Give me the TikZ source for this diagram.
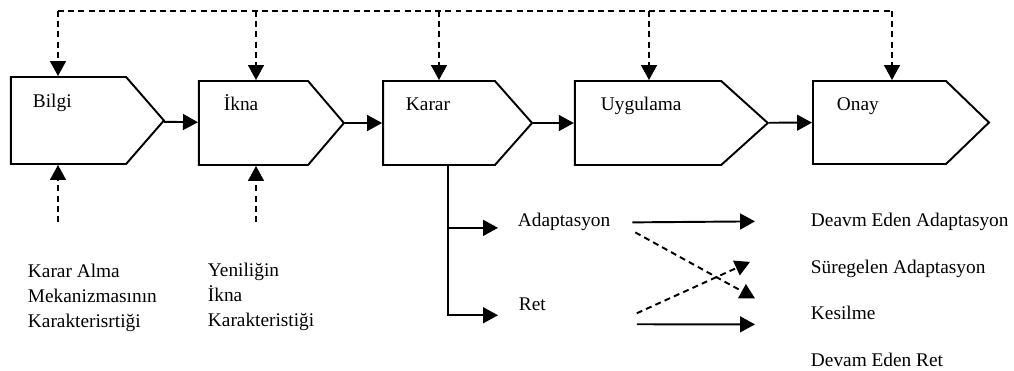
\documentclass[tikz,border=0pt]{standalone}
\usepackage{fontspec}
\setmainfont{Liberation Serif}
\usepackage{tikz}
\usetikzlibrary{shapes.symbols}
\usetikzlibrary{arrows.meta}

\tikzset{
  stage/.style={draw, line width=1.1pt, shape=signal, signal to=east, minimum height=1.68cm, inner sep=0pt},
  lbl/.style={inner sep=0pt, font=\fontsize{11}{14.4}\selectfont},
  fb/.style={line width=1.1pt, dash pattern=on 3.4pt off 2.4pt},
}

\begin{document}
\begin{tikzpicture}[>={Triangle[length=8.5pt,width=9pt]}, line width=1.1pt]
    \useasboundingbox (0,0) rectangle (20.28,-7.42);

    % stages
    \node[stage, minimum width=3.06cm, minimum height=1.74cm, signal pointer angle=98] (bilgi) at ( 1.37,-2.41) {};
    \node[stage, minimum width=2.90cm, signal pointer angle=99] (ikna)  at ( 5.07,-2.46) {};
    \node[stage, minimum width=2.98cm, signal pointer angle=97] (karar) at ( 8.78,-2.46) {};
    \node[stage, minimum width=3.86cm, signal pointer angle=84] (uyg)   at (12.96,-2.46) {};
    \node[stage, minimum width=3.52cm, minimum height=1.66cm, signal pointer angle=88] (onay) at (17.59,-2.45) {};

    \node[lbl, anchor=base west] (bilgi-t) at ( 0.64,-2.16) {Bilgi};
    \node[lbl, anchor=base west] (ikna-t)  at ( 4.46,-2.22) {İkna};
    \node[lbl, anchor=base west] (karar-t) at ( 8.10,-2.22) {Karar};
    \node[lbl, anchor=base west] (uyg-t)   at (12.00,-2.22) {Uygulama};
    \node[lbl, anchor=base west] (onay-t)  at (16.72,-2.22) {Onay};

    \draw[->] (bilgi) -- (ikna);
    \draw[->] (ikna)  -- (karar);
    \draw[->] (karar) -- (uyg);
    \draw[->] (uyg)   -- (onay);

    % feedback from the top
    \foreach \b/\x in {bilgi/1.16, ikna/5.12, karar/8.78, uyg/12.98, onay/17.84}
      \coordinate (t-\b) at (\x,-0.22);
    \draw[fb] (t-bilgi) -- (t-onay);
    \foreach \b in {bilgi, ikna, karar, uyg, onay}
      \draw[fb,->] (t-\b) -- (t-\b |- \b.north);

    % inputs from below
    \coordinate (in-bilgi) at (1.16,-4.44);
    \coordinate (in-ikna)  at (5.12,-4.44);
    \draw[fb,->] (in-bilgi) -- (in-bilgi |- bilgi.south);
    \draw[fb,->] (in-ikna)  -- (in-ikna |- ikna.south);

    \node[lbl, anchor=base west, align=left] (kam) at (0.54,-6.56) {Karar Alma\\Mekanizmasının\\Karakterisrtiği};
    \node[lbl, anchor=base west, align=left] (yen) at (4.14,-6.54) {Yeniliğin\\İkna\\Karakteristiği};

    % decision outcomes
    \node[lbl, anchor=base west] (adapt) at (10.34,-4.54) {Adaptasyon};
    \node[lbl, anchor=base west] (ret)   at (10.36,-6.22) {Ret};
    \node[lbl, anchor=base west] (deavm) at (16.20,-4.52) {Deavm Eden Adaptasyon};
    \node[lbl, anchor=base west] (sureg) at (16.20,-5.46) {Süregelen Adaptasyon};
    \node[lbl, anchor=base west] (kesil) at (16.20,-6.40) {Kesilme};
    \node[lbl, anchor=base west] (devam) at (16.20,-7.34) {Devam Eden Ret};

    \draw[->] ([xshift=0.18cm]karar.south) |- ([xshift=-0.38cm,yshift=-0.11cm]adapt.west);
    \draw[->] ([xshift=0.18cm]karar.south) |- ([xshift=-0.40cm,yshift=-0.21cm]ret.west);

    \draw[->]    ([xshift=0.42cm]adapt.east) -- ([xshift=-1.10cm]deavm.west);
    \draw[fb,->] ([xshift=0.48cm,yshift=-0.20cm]adapt.east) -- ([xshift=-1.10cm,yshift=0.30cm]kesil.west);
    \draw[fb,->] ([xshift=1.80cm,yshift=-0.17cm]ret.east) -- ([xshift=-1.20cm,yshift=0.13cm]sureg.west);
    \draw[->]    ([xshift=1.80cm,yshift=-0.39cm]ret.east) -- ([xshift=-1.10cm,yshift=-0.22cm]kesil.west);
\end{tikzpicture}
\end{document}
